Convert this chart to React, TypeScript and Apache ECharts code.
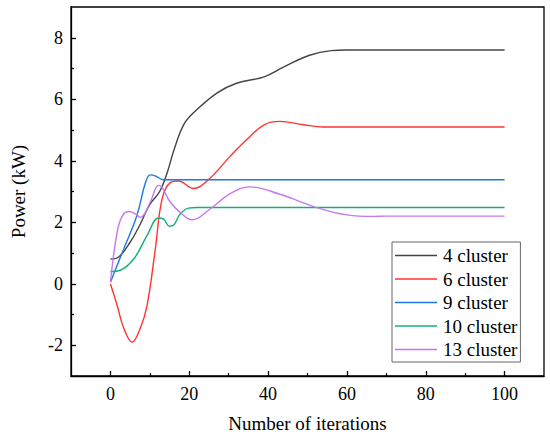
import React, { useEffect, useRef } from "react";
import * as echarts from "echarts";

const seriesNames = ["4 cluster", "6 cluster", "9 cluster", "10 cluster", "13 cluster"];
const seriesColors = ["#444444", "#ff3333", "#1f78e0", "#14b070", "#c678f0"];

const it4 = [0, 2, 5, 7.5, 10, 12.5, 14.5, 16, 18.5, 21, 27, 32, 39, 44, 50.5, 56, 60, 100];
const p4 = [0.8, 0.86, 1.35, 1.92, 2.58, 3.0, 3.65, 4.3, 5.15, 5.55, 6.2, 6.52, 6.73, 7.05, 7.43, 7.58, 7.6, 7.6];

const it6 = [0, 1.7, 3.4, 5.5, 7.6, 9.3, 11.4, 13.1, 15.2, 17.3, 21, 25, 30.4, 34.6, 39, 43, 49, 54, 60, 100];
const p6 = [0, -0.7, -1.45, -1.9, -1.44, -0.7, 1.14, 2.75, 3.29, 3.34, 3.1, 3.4, 4.15, 4.69, 5.17, 5.28, 5.17, 5.1, 5.1, 5.1];

const it9 = [0, 3.4, 6.7, 8.9, 10.1, 11.5, 13.5, 16, 100];
const p9 = [0.05, 1.14, 2.21, 3.29, 3.54, 3.5, 3.38, 3.38, 3.38];

const it10 = [0, 2.5, 6, 9.3, 12.2, 13.5, 15, 16, 17.7, 19.8, 22, 100];
const p10 = [0.4, 0.44, 0.82, 1.57, 2.14, 2.1, 1.87, 1.9, 2.27, 2.46, 2.48, 2.48];

const it13 = [0, 1.7, 3, 4.6, 6, 7.6, 10.1, 12.2, 13, 15.2, 17.7, 20.7, 25.3, 30, 35.4, 43, 53, 60, 66.7, 70, 100];
const p13 = [0.05, 1.68, 2.2, 2.35, 2.3, 2.16, 2.65, 3.2, 3.15, 2.65, 2.32, 2.08, 2.43, 2.9, 3.15, 2.91, 2.45, 2.24, 2.19, 2.2, 2.2];

const xMajorTicks = [0, 20, 40, 60, 80, 100];
const xMinorTicks = [10, 30, 50, 70, 90];
const yMajorTicks = [-2, 0, 2, 4, 6, 8];
const yMinorTicks = [-1, 1, 3, 5, 7];

const xs = [it4, it6, it9, it10, it13];
const ys = [p4, p6, p9, p10, p13];

const FONT = "Liberation Serif";

export default function App() {
  const ref = useRef<HTMLDivElement>(null);
  useEffect(() => {
    document.body.style.margin = "0";
    if (!ref.current) return;
    const chart = echarts.init(ref.current, undefined, { renderer: "svg" });
    const axisLine = { show: true, onZero: false, lineStyle: { color: "#000", width: 1.3 } };
    const txt = (size: number) => ({ fontFamily: FONT, fontSize: size, color: "#000", fontWeight: "normal" as const });
    chart.setOption({
      animation: false,
      backgroundColor: "#fff",
      textStyle: { fontFamily: FONT },
      grid: {
        left: 71,
        right: 6,
        top: 7,
        bottom: 60,
        show: true,
        borderColor: "#000",
        borderWidth: 1.3,
      },
      legend: {
        orient: "vertical",
        left: 392,
        top: 242,
        data: seriesNames,
        icon: "rect",
        itemWidth: 42,
        itemHeight: 1.5,
        itemGap: 4.5,
        padding: [4, 3, 3, 3],
        borderColor: "#666",
        borderWidth: 1,
        backgroundColor: "#fff",
        textStyle: { ...txt(19), padding: [0, 0, 0, 1] },
      },
      xAxis: [
        {
          type: "value",
          min: -10,
          max: 110,
          name: "Number of iterations",
          nameLocation: "middle",
          nameGap: 38,
          nameTextStyle: txt(19),
          axisLine,
          axisTick: { show: true, inside: true, length: 5, customValues: xMajorTicks, lineStyle: { color: "#000", width: 1.3 } },
          axisLabel: { customValues: xMajorTicks, margin: 9, ...txt(18) },
          splitLine: { show: false },
        },
        {
          type: "value",
          min: -10,
          max: 110,
          position: "bottom",
          axisLine: { show: false, onZero: false },
          axisTick: { show: true, inside: true, length: 3, customValues: xMinorTicks, lineStyle: { color: "#000", width: 1.2 } },
          axisLabel: { show: false },
          splitLine: { show: false },
        },
      ],
      yAxis: [
        {
          type: "value",
          min: -3,
          max: 9,
          name: "Power (kW)",
          nameLocation: "middle",
          nameGap: 43,
          nameTextStyle: txt(19),
          axisLine,
          axisTick: { show: true, inside: true, length: 5, customValues: yMajorTicks, lineStyle: { color: "#000", width: 1.3 } },
          axisLabel: { customValues: yMajorTicks, margin: 8, ...txt(18) },
          splitLine: { show: false },
        },
        {
          type: "value",
          min: -3,
          max: 9,
          position: "left",
          axisLine: { show: false, onZero: false },
          axisTick: { show: true, inside: true, length: 3, customValues: yMinorTicks, lineStyle: { color: "#000", width: 1.2 } },
          axisLabel: { show: false },
          splitLine: { show: false },
        },
      ],
      series: seriesNames.map((name, i) => ({
        name,
        type: "line",
        xAxisIndex: 0,
        yAxisIndex: 0,
        smooth: 0.4,
        showSymbol: false,
        symbol: "none",
        color: seriesColors[i],
        lineStyle: { color: seriesColors[i], width: 1.4 },
        data: xs[i].map((x, j) => [x, ys[i][j]]),
      })),
    });
    return () => chart.dispose();
  }, []);
  return <div ref={ref} style={{ width: 550, height: 438, fontFamily: "Liberation Serif" }} />;
}
